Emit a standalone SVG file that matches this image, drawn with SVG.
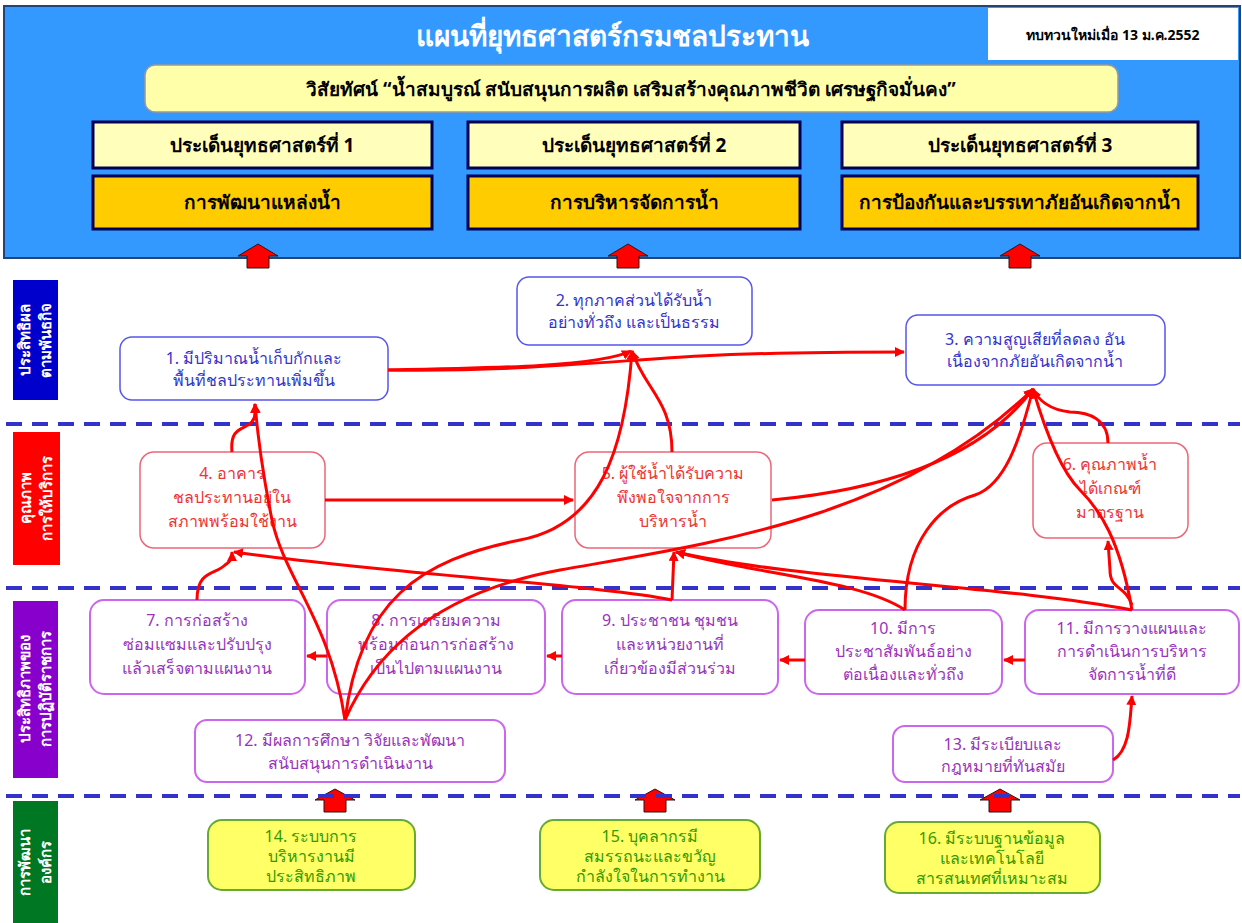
<svg xmlns="http://www.w3.org/2000/svg" width="1242" height="923" viewBox="0 0 1242 923">
<defs>
<marker id="ah" viewBox="0 0 10 10" refX="9" refY="5" markerWidth="10" markerHeight="10" markerUnits="userSpaceOnUse" orient="auto">
<path d="M0,0 L10,5 L0,10 z" fill="#FF0000"/>
</marker>
<style>
text{font-family:"Noto Sans","DejaVu Sans",sans-serif;}
.t{text-anchor:middle;}
.hb{fill:#FFFFBB;stroke:#000055;stroke-width:3;}
.hg{fill:#FFCC00;stroke:#000055;stroke-width:3;}
.ht{font-size:19px;font-weight:bold;fill:#000;}
.nb{fill:#fff;stroke:#5555EE;stroke-width:1.5;}
.nr{fill:#fff;stroke:#EE6677;stroke-width:1.5;}
.np{fill:#fff;stroke:#CC66EE;stroke-width:2;}
.ng{fill:#FFFF66;stroke:#66AA33;stroke-width:2;}
.tb{fill:#3333CC;font-size:16px;}
.tr{fill:#EE3333;font-size:16px;}
.tp{fill:#9933BB;font-size:16px;}
.tg{fill:#339900;font-size:16px;}
.dash{stroke:#3333CC;stroke-width:4;stroke-dasharray:16 10;}
.c{fill:none;stroke:#FF0000;stroke-width:3;marker-end:url(#ah);}
.ba{fill:#FF0000;stroke:#331111;stroke-width:1;}
.lab{fill:#fff;font-size:15px;font-weight:bold;text-anchor:middle;}
</style>
</defs>
<rect width="1242" height="923" fill="#fff"/>
<g id="header">
<rect x="4" y="6" width="1236" height="252" fill="#3399FF" stroke="#224477" stroke-width="2"/>
<text x="612" y="46" class="t" fill="#fff" font-size="28" font-weight="bold">แผนที่ยุทธศาสตร์กรมชลประทาน</text>
<rect x="988" y="8" width="250" height="52" fill="#fff"/>
<text x="1113" y="40" class="t" font-size="14" font-weight="bold" fill="#000">ทบทวนใหม่เมื่อ 13 ม.ค.2552</text>
<rect x="145" y="65" width="973" height="47" rx="10" fill="#FFFFAA" stroke="#999" stroke-width="1.5"/>
<text x="631" y="96" class="t ht" font-size="18">วิสัยทัศน์ “น้ำสมบูรณ์ สนับสนุนการผลิต เสริมสร้างคุณภาพชีวิต เศรษฐกิจมั่นคง”</text>
</g>
<g id="s1"><rect x="93" y="122" width="339" height="46" class="hb"/><text x="262" y="152" class="t ht">ประเด็นยุทธศาสตร์ที่ 1</text></g>
<g id="s2"><rect x="468" y="122" width="332" height="46" class="hb"/><text x="634" y="152" class="t ht">ประเด็นยุทธศาสตร์ที่ 2</text></g>
<g id="s3"><rect x="842" y="122" width="356" height="46" class="hb"/><text x="1020" y="152" class="t ht">ประเด็นยุทธศาสตร์ที่ 3</text></g>
<g id="g1"><rect x="93" y="176" width="339" height="53" class="hg"/><text x="262" y="209" class="t ht" font-size="17">การพัฒนาแหล่งน้ำ</text></g>
<g id="g2"><rect x="468" y="176" width="332" height="53" class="hg"/><text x="634" y="209" class="t ht" font-size="17">การบริหารจัดการน้ำ</text></g>
<g id="g3"><rect x="842" y="176" width="356" height="53" class="hg"/><text x="1020" y="209" class="t ht" font-size="16">การป้องกันและบรรเทาภัยอันเกิดจากน้ำ</text></g>
<g id="blockarrows">
<polygon class="ba" points="238,256 258,244 278,256 269,256 269,268 247,268 247,256"/>
<polygon class="ba" points="608,256 628,244 648,256 639,256 639,268 617,268 617,256"/>
<polygon class="ba" points="1000,256 1020,244 1040,256 1031,256 1031,268 1009,268 1009,256"/>
<polygon class="ba" points="315,800 335,789 355,800 346,800 346,812 324,812 324,800"/>
<polygon class="ba" points="635,800 655,789 675,800 666,800 666,812 644,812 644,800"/>
<polygon class="ba" points="980,800 1000,789 1020,800 1011,800 1011,812 989,812 989,800"/>
</g>
<g id="lanes">
<line x1="6" y1="424" x2="1240" y2="424" class="dash"/>
<line x1="6" y1="588" x2="1240" y2="588" class="dash"/>
<line x1="6" y1="796" x2="1240" y2="796" class="dash"/>
</g>
<g id="lab1"><rect x="13" y="280" width="45" height="120" fill="#0000CC"/><text class="lab" transform="translate(35,340) rotate(-90)"><tspan x="0" y="-5">ประสิทธิผล</tspan><tspan x="0" y="16">ตามพันธกิจ</tspan></text></g>
<g id="lab2"><rect x="13" y="432" width="47" height="133" fill="#FF0000"/><text class="lab" transform="translate(36,498) rotate(-90)"><tspan x="0" y="-5">คุณภาพ</tspan><tspan x="0" y="16">การให้บริการ</tspan></text></g>
<g id="lab3"><rect x="13" y="601" width="45" height="177" fill="#8800CC"/><text class="lab" transform="translate(35,689) rotate(-90)"><tspan x="0" y="-5">ประสิทธิภาพของ</tspan><tspan x="0" y="16">การปฏิบัติราชการ</tspan></text></g>
<g id="lab4"><rect x="13" y="801" width="45" height="122" fill="#007722"/><text class="lab" transform="translate(35,862) rotate(-90)"><tspan x="0" y="-5">การพัฒนา</tspan><tspan x="0" y="16">องค์กร</tspan></text></g>
<g id="n1"><rect x="120" y="337" width="268" height="63" rx="12" class="nb"/><text class="t tb"><tspan x="254" y="364">1. มีปริมาณน้ำเก็บกักและ</tspan><tspan x="254" y="386">พื้นที่ชลประทานเพิ่มขึ้น</tspan></text></g>
<g id="n2"><rect x="517" y="277" width="235" height="68" rx="12" class="nb"/><text class="t tb"><tspan x="634" y="306">2. ทุกภาคส่วนได้รับน้ำ</tspan><tspan x="634" y="328">อย่างทั่วถึง และเป็นธรรม</tspan></text></g>
<g id="n3"><rect x="906" y="315" width="259" height="70" rx="12" class="nb"/><text class="t tb"><tspan x="1035" y="345">3. ความสูญเสียที่ลดลง อัน</tspan><tspan x="1035" y="367">เนื่องจากภัยอันเกิดจากน้ำ</tspan></text></g>
<g id="n4"><rect x="140" y="452" width="185" height="96" rx="14" class="nr"/><text class="t tr"><tspan x="232" y="479">4. อาคาร</tspan><tspan x="232" y="503">ชลประทานอยู่ใน</tspan><tspan x="232" y="527">สภาพพร้อมใช้งาน</tspan></text></g>
<g id="n5"><rect x="575" y="452" width="196" height="96" rx="14" class="nr"/><text class="t tr"><tspan x="673" y="479">5. ผู้ใช้น้ำได้รับความ</tspan><tspan x="673" y="503">พึงพอใจจากการ</tspan><tspan x="673" y="527">บริหารน้ำ</tspan></text></g>
<g id="n6"><rect x="1033" y="443" width="155" height="95" rx="14" class="nr"/><text class="t tr"><tspan x="1110" y="470">6. คุณภาพน้ำ</tspan><tspan x="1110" y="494">ได้เกณฑ์</tspan><tspan x="1110" y="518">มาตรฐาน</tspan></text></g>
<g id="n7"><rect x="90" y="600" width="215" height="94" rx="14" class="np"/><text class="t tp"><tspan x="197" y="626">7. การก่อสร้าง</tspan><tspan x="197" y="650">ซ่อมแซมและปรับปรุง</tspan><tspan x="197" y="674">แล้วเสร็จตามแผนงาน</tspan></text></g>
<g id="n8"><rect x="327" y="600" width="218" height="94" rx="14" class="np"/><text class="t tp"><tspan x="436" y="626">8. การเตรียมความ</tspan><tspan x="436" y="650">พร้อมก่อนการก่อสร้าง</tspan><tspan x="436" y="674">เป็นไปตามแผนงาน</tspan></text></g>
<g id="n9"><rect x="562" y="600" width="216" height="94" rx="14" class="np"/><text class="t tp"><tspan x="670" y="626">9. ประชาชน ชุมชน</tspan><tspan x="670" y="650">และหน่วยงานที่</tspan><tspan x="670" y="674">เกี่ยวข้องมีส่วนร่วม</tspan></text></g>
<g id="n10"><rect x="805" y="610" width="197" height="84" rx="14" class="np"/><text class="t tp"><tspan x="903" y="634">10. มีการ</tspan><tspan x="903" y="657">ประชาสัมพันธ์อย่าง</tspan><tspan x="903" y="680">ต่อเนื่องและทั่วถึง</tspan></text></g>
<g id="n11"><rect x="1025" y="610" width="214" height="84" rx="14" class="np"/><text class="t tp"><tspan x="1132" y="634">11. มีการวางแผนและ</tspan><tspan x="1132" y="657">การดำเนินการบริหาร</tspan><tspan x="1132" y="680">จัดการน้ำที่ดี</tspan></text></g>
<g id="n12"><rect x="195" y="720" width="310" height="62" rx="12" class="np"/><text class="t tp"><tspan x="350" y="746">12. มีผลการศึกษา วิจัยและพัฒนา</tspan><tspan x="350" y="769">สนับสนุนการดำเนินงาน</tspan></text></g>
<g id="n13"><rect x="893" y="726" width="220" height="56" rx="12" class="np"/><text class="t tp"><tspan x="1003" y="750">13. มีระเบียบและ</tspan><tspan x="1003" y="772">กฎหมายที่ทันสมัย</tspan></text></g>
<g id="n14"><rect x="208" y="820" width="207" height="70" rx="14" class="ng"/><text class="t tg"><tspan x="311" y="842">14. ระบบการ</tspan><tspan x="311" y="862">บริหารงานมี</tspan><tspan x="311" y="882">ประสิทธิภาพ</tspan></text></g>
<g id="n15"><rect x="540" y="820" width="220" height="70" rx="14" class="ng"/><text class="t tg"><tspan x="650" y="842">15. บุคลากรมี</tspan><tspan x="650" y="862">สมรรถนะและขวัญ</tspan><tspan x="650" y="882">กำลังใจในการทำงาน</tspan></text></g>
<g id="n16"><rect x="885" y="822" width="215" height="71" rx="14" class="ng"/><text class="t tg"><tspan x="992" y="844">16. มีระบบฐานข้อมูล</tspan><tspan x="992" y="864">และเทคโนโลยี</tspan><tspan x="992" y="884">สารสนเทศที่เหมาะสม</tspan></text></g>
<g id="connectors">
<path class="c" d="M388,370 C500,368 600,366 631,351"/>
<path class="c" d="M388,370 C520,372 620,360 700,356 S850,352 904,352"/>
<path class="c" d="M232,452 C230,430 240,430 248,425 C256,420 255,415 255,404"/>
<path class="c" d="M345,720 C330,620 285,580 272,520 C262,470 258,440 255,404"/>
<path class="c" d="M345,720 C360,600 420,560 520,540 C600,525 625,450 632,351"/>
<path class="c" d="M345,720 C380,640 450,590 560,570 C700,545 900,520 1033,389"/>
<path class="c" d="M325,500 L573,500"/>
<path class="c" d="M672,452 C672,400 645,390 632,351"/>
<path class="c" d="M772,500 C880,490 980,460 1033,389"/>
<path class="c" d="M197,600 C197,570 215,575 225,565 C232,560 232,558 232,552"/>
<path class="c" d="M672,600 C600,585 400,575 234,552"/>
<path class="c" d="M672,600 L674,552"/>
<path class="c" d="M905,610 C860,580 760,575 676,552"/>
<path class="c" d="M1132,610 C1000,585 800,580 676,552"/>
<path class="c" d="M905,610 C905,540 940,505 975,495 C1005,485 1020,440 1033,389"/>
<path class="c" d="M1132,610 C1120,540 1100,510 1080,490 C1060,470 1045,430 1033,389"/>
<path class="c" d="M1108,443 C1108,420 1090,412 1070,412 C1050,410 1038,400 1033,389"/>
<path class="c" d="M1132,605 C1125,585 1110,590 1110,570 L1108,541"/>
<path class="c" d="M1113,760 C1130,750 1130,720 1132,696"/>
<path class="c" d="M1025,660 L1004,660"/>
<path class="c" d="M805,660 L780,660"/>
<path class="c" d="M562,656 L547,656"/>
<path class="c" d="M327,656 L307,656"/>
</g>
</svg>
